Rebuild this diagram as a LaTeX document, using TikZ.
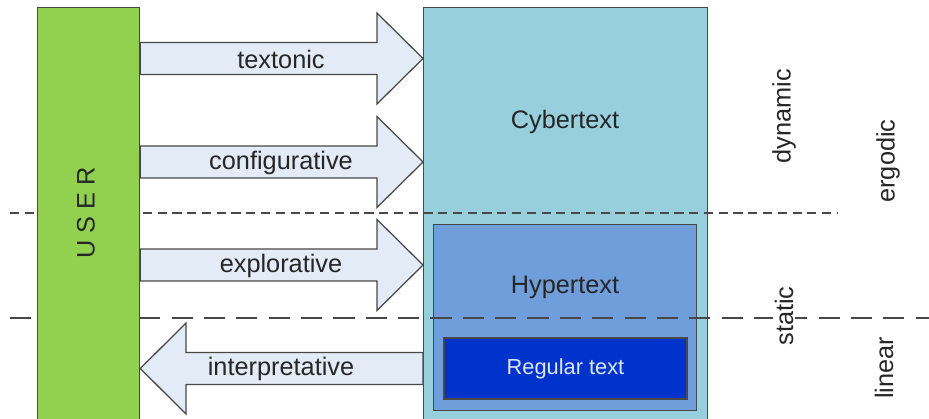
\documentclass[tikz,border=0pt]{standalone}
\usepackage{fontspec}
\setmainfont{Liberation Sans}
\usetikzlibrary{positioning}
\definecolor{usergreen}{RGB}{146,208,80}
\definecolor{cybercyan}{RGB}{152,207,221}
\definecolor{hyperblue}{RGB}{112,158,218}
\definecolor{regblue}{RGB}{0,51,204}
\definecolor{arrowfill}{RGB}{227,235,246}
\definecolor{edgegray}{RGB}{72,72,72}
\tikzset{box/.style={draw=edgegray,line width=0.9pt,anchor=north west,inner sep=0pt},
  blockarrow/.style={draw=edgegray,fill=arrowfill,line width=0.9pt,line join=miter},
  arrowlabel/.style={font=\fontsize{18}{20}\selectfont,text=black!85},
  sidelabel/.style={font=\fontsize{18}{20}\selectfont,text=black!85,rotate=90},
  sepline/.style={draw=edgegray,line width=0.85pt}}
% arrow pointing right, from USER to Cybertext
\newcommand{\toright}[3]{%
  \filldraw[blockarrow] (user.east |- 0,#1-16) -- (377,#1-16) -- (377,#1-45.5)
    -- (cyber.west |- 0,#1) -- (377,#1+45.5) -- (377,#1+16)
    -- (user.east |- 0,#1+16) -- cycle;
  \node[arrowlabel] (#2) at (281,#1+0.5) {#3};}
\begin{document}
\begin{tikzpicture}[x=0.025cm,y=-0.025cm]
  \clip (0,0) rectangle (929,419);

  % the boxes
  \node[box,fill=cybercyan,minimum width=7.1cm,minimum height=10.6cm] (cyber) at (423,7) {};
  \node[box,fill=hyperblue,minimum width=6.575cm,minimum height=4.65cm] (hyper) at (433,224) {};
  \node[box,fill=regblue,minimum width=6.075cm,minimum height=1.525cm,
    font=\fontsize{15.5}{18}\selectfont,text={rgb,255:red,220;green,230;blue,244},
    anchor=center] (regular) at (565.5,368.5) {Regular text};
  \node[arrowlabel] (cyberlabel) at (565,122) {Cybertext};
  \node[arrowlabel] (hyperlabel) at (565,287) {Hypertext};

  % separating lines
  \coordinate (d1) at (10,213);
  \coordinate (d2) at (838,213);
  \coordinate (s1) at (10,318);
  \coordinate (s2) at (929,318);
  \draw[sepline,dash pattern=on 6.5pt off 4pt] (d1) -- (d2);
  \draw[sepline,dash pattern=on 15pt off 8pt] (s1) -- (s2);

  \node[box,fill=usergreen,minimum width=2.55cm,minimum height=10.6cm] (user) at (37,7) {};
  \node[sidelabel] (userlabel) at (86,213) {U S E R};

  \toright{58.5}{textonic}{textonic}
  \toright{162}{configurative}{configurative}
  \toright{265}{explorative}{explorative}

  % arrow pointing back to USER
  \filldraw[blockarrow] (cyber.west |- 0,352.5) -- (186,352.5) -- (186,323)
    -- (user.east |- 0,368.5) -- (186,414) -- (186,384.5)
    -- (cyber.west |- 0,384.5) -- cycle;
  \node[arrowlabel] (interpretative) at (281,369) {interpretative};

  \node[sidelabel] (dynamic) at (784,116) {dynamic};
  \node[sidelabel] (ergodic) at (888,161) {ergodic};
  \node[sidelabel,fill=white,inner xsep=4pt,inner ysep=1pt] (static) at (784,316) {static};
  \node[sidelabel] (linear) at (884,368) {linear};
\end{tikzpicture}
\end{document}
